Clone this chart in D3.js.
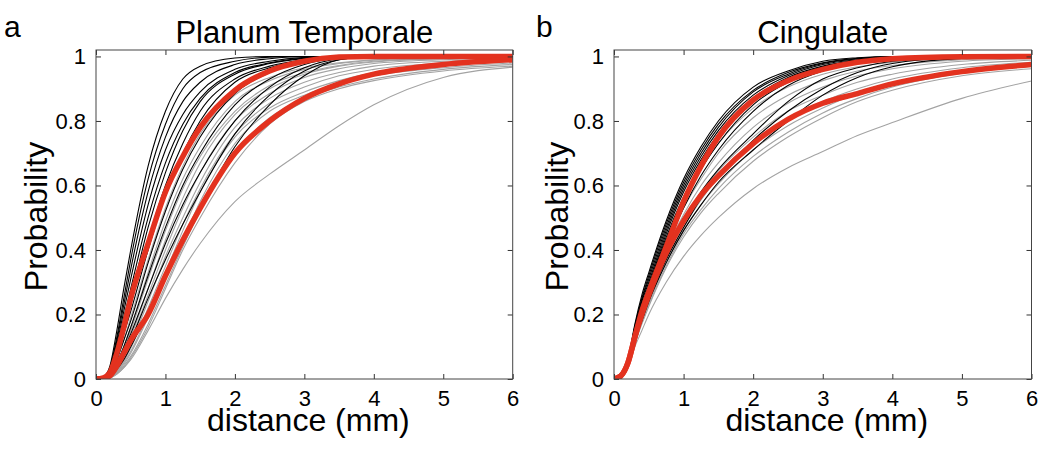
<!DOCTYPE html>
<html>
<head>
<meta charset="utf-8">
<script src="https://cdn.jsdelivr.net/npm/d3@7"></script>
<style>
  body { margin: 0; background: #fff; }
  svg { display: block; font-family: "Liberation Sans", Arial, sans-serif; }
</style>
</head>
<body>
<div class="chart"></div>
<script>
// distance grid (mm) shared by all curves
var distances = [0, 0.1, 0.2, 0.3, 0.4, 0.5, 0.75, 1, 1.25, 1.5, 2, 2.5, 3, 3.5, 4, 5, 6];
var xTicks = [0, 1, 2, 3, 4, 5, 6];
var yTicks = [0, 0.2, 0.4, 0.6, 0.8, 1];

// Planum Temporale
var ptBlack = [
  [0,0.005,0.04,0.15,0.28,0.40,0.66,0.83,0.93,0.97,0.995,1,1,1,1,1,1],
  [0,0.004,0.035,0.13,0.25,0.37,0.62,0.79,0.90,0.95,0.985,0.998,1,1,1,1,1],
  [0,0.003,0.03,0.12,0.23,0.34,0.58,0.75,0.86,0.92,0.975,0.993,1,1,1,1,1],
  [0,0.003,0.03,0.11,0.21,0.31,0.54,0.71,0.82,0.89,0.96,0.985,0.997,1,1,1,1],
  [0,0.002,0.025,0.10,0.19,0.28,0.50,0.67,0.79,0.87,0.95,0.98,0.995,1,1,1,1],
  [0,0.002,0.02,0.08,0.16,0.25,0.47,0.64,0.77,0.86,0.945,0.978,0.994,1,1,1,1],
  [0,0.002,0.02,0.08,0.15,0.23,0.43,0.60,0.73,0.83,0.93,0.97,0.99,1,1,1,1],
  [0,0.002,0.018,0.07,0.14,0.21,0.40,0.57,0.70,0.80,0.92,0.965,0.99,1,1,1,1],
  [0,0.002,0.015,0.06,0.12,0.18,0.36,0.52,0.65,0.75,0.885,0.95,0.985,0.998,1,1,1],
  [0,0.001,0.013,0.05,0.10,0.16,0.32,0.47,0.60,0.70,0.85,0.93,0.975,0.995,1,1,1],
  [0,0.001,0.011,0.045,0.09,0.14,0.28,0.42,0.54,0.64,0.80,0.905,0.965,0.993,1,1,1],
  [0,0.001,0.01,0.04,0.075,0.12,0.25,0.37,0.48,0.58,0.76,0.88,0.955,0.99,1,1,1],
  [0,0.001,0.008,0.03,0.06,0.10,0.21,0.32,0.43,0.53,0.72,0.85,0.94,0.99,1,1,1]
];
var ptGray = [
  [0,0.002,0.015,0.06,0.12,0.19,0.37,0.53,0.66,0.76,0.88,0.935,0.965,0.98,0.99,0.997,1],
  [0,0.001,0.012,0.05,0.10,0.16,0.33,0.49,0.62,0.72,0.86,0.925,0.96,0.978,0.988,0.996,0.999],
  [0,0.001,0.01,0.045,0.09,0.15,0.31,0.46,0.59,0.69,0.83,0.91,0.95,0.972,0.985,0.994,0.998],
  [0,0.001,0.01,0.04,0.08,0.13,0.28,0.43,0.56,0.67,0.82,0.90,0.945,0.97,0.983,0.993,0.997],
  [0,0.001,0.008,0.035,0.07,0.12,0.26,0.40,0.53,0.64,0.80,0.885,0.935,0.962,0.978,0.99,0.996],
  [0,0.001,0.008,0.03,0.065,0.11,0.24,0.38,0.50,0.61,0.78,0.87,0.92,0.95,0.97,0.985,0.993],
  [0,0,0.006,0.025,0.055,0.095,0.22,0.35,0.48,0.59,0.76,0.855,0.905,0.94,0.96,0.98,0.99],
  [0,0,0.005,0.022,0.05,0.085,0.20,0.33,0.46,0.58,0.75,0.84,0.89,0.925,0.95,0.972,0.985],
  [0,0,0.004,0.02,0.045,0.08,0.19,0.31,0.43,0.55,0.73,0.83,0.88,0.915,0.94,0.965,0.98],
  [0,0,0.004,0.018,0.04,0.07,0.17,0.29,0.41,0.52,0.70,0.81,0.87,0.905,0.93,0.96,0.975],
  [0,0,0.003,0.015,0.035,0.065,0.16,0.28,0.40,0.50,0.67,0.79,0.86,0.90,0.925,0.955,0.97],
  [0,0,0.003,0.015,0.035,0.06,0.15,0.25,0.34,0.42,0.55,0.635,0.71,0.785,0.85,0.935,0.967]
];
var ptMeanBlack = [0,0.003,0.02,0.08,0.16,0.25,0.42,0.58,0.69,0.78,0.895,0.955,0.985,0.998,1,1,1];
var ptMeanGray  = [0,0.002,0.01,0.04,0.08,0.12,0.20,0.32,0.43,0.53,0.70,0.80,0.87,0.915,0.945,0.975,0.99];

// Cingulate
var cgBlack = [
  [0,0.01,0.06,0.17,0.26,0.33,0.49,0.62,0.72,0.80,0.905,0.955,0.985,0.996,1,1,1],
  [0,0.01,0.058,0.165,0.25,0.32,0.48,0.61,0.71,0.79,0.895,0.95,0.98,0.994,0.999,1,1],
  [0,0.01,0.055,0.16,0.245,0.31,0.47,0.60,0.70,0.78,0.89,0.945,0.978,0.993,0.999,1,1],
  [0,0.01,0.055,0.155,0.24,0.30,0.46,0.59,0.69,0.77,0.88,0.94,0.975,0.99,0.998,1,1],
  [0,0.01,0.052,0.15,0.23,0.29,0.45,0.58,0.68,0.76,0.87,0.935,0.97,0.988,0.997,1,1],
  [0,0.01,0.05,0.145,0.225,0.285,0.44,0.565,0.665,0.745,0.86,0.93,0.968,0.987,0.996,1,1],
  [0,0.009,0.05,0.14,0.22,0.28,0.43,0.55,0.65,0.73,0.85,0.92,0.962,0.985,0.995,1,1],
  [0,0.009,0.048,0.135,0.21,0.27,0.41,0.53,0.63,0.71,0.83,0.91,0.955,0.98,0.993,0.999,1],
  [0,0.009,0.047,0.125,0.19,0.25,0.37,0.47,0.56,0.63,0.74,0.83,0.90,0.95,0.978,0.997,1],
  [0,0.008,0.046,0.125,0.19,0.25,0.38,0.49,0.58,0.65,0.76,0.86,0.93,0.965,0.985,0.998,1],
  [0,0.008,0.045,0.12,0.18,0.24,0.36,0.46,0.54,0.61,0.71,0.80,0.88,0.935,0.968,0.994,1]
];
var cgGray = [
  [0,0.01,0.05,0.14,0.22,0.28,0.43,0.55,0.65,0.73,0.84,0.905,0.945,0.968,0.982,0.994,0.998],
  [0,0.01,0.05,0.135,0.21,0.27,0.41,0.53,0.62,0.70,0.81,0.88,0.925,0.955,0.972,0.99,0.996],
  [0,0.009,0.048,0.13,0.20,0.26,0.40,0.51,0.60,0.67,0.78,0.855,0.905,0.94,0.962,0.985,0.993],
  [0,0.009,0.046,0.125,0.19,0.25,0.385,0.49,0.575,0.645,0.75,0.83,0.88,0.92,0.945,0.975,0.988],
  [0,0.009,0.045,0.12,0.185,0.24,0.37,0.47,0.555,0.625,0.73,0.805,0.86,0.90,0.93,0.965,0.982],
  [0,0.008,0.044,0.115,0.18,0.235,0.36,0.46,0.54,0.605,0.71,0.785,0.84,0.885,0.915,0.955,0.975],
  [0,0.008,0.043,0.11,0.175,0.23,0.35,0.45,0.525,0.59,0.69,0.765,0.825,0.87,0.905,0.948,0.97],
  [0,0.008,0.042,0.11,0.17,0.225,0.345,0.44,0.515,0.575,0.675,0.75,0.81,0.86,0.895,0.94,0.962],
  [0,0.008,0.04,0.10,0.15,0.20,0.30,0.38,0.445,0.50,0.59,0.655,0.705,0.755,0.795,0.87,0.924]
];
var cgMeanBlack = [0,0.01,0.05,0.13,0.21,0.27,0.41,0.55,0.66,0.75,0.865,0.925,0.96,0.982,0.993,0.999,1];
var cgMeanGray  = [0,0.01,0.05,0.13,0.20,0.26,0.39,0.49,0.57,0.63,0.73,0.805,0.855,0.885,0.915,0.953,0.975];

var panels = [
  { letter: "a", title: "Planum Temporale", black: ptBlack, gray: ptGray, means: [ptMeanBlack, ptMeanGray],
    left: 96, right: 512.7, letterX: 4, ylabX: 47 },
  { letter: "b", title: "Cingulate", black: cgBlack, gray: cgGray, means: [cgMeanBlack, cgMeanGray],
    left: 614, right: 1031.5, letterX: 536, ylabX: 568 }
];

var plotTop = 50, plotBottom = 379;

var svg = d3.select(".chart").append("svg")
    .attr("width", 1050)
    .attr("height", 451);

panels.forEach(function (p, i) {
    var x = d3.scaleLinear().domain([0, 6]).range([p.left, p.right]);
    var y = d3.scaleLinear().domain([0, 1.02]).range([plotBottom, plotTop]);

    var line = d3.line()
        .x(function (d, j) { return x(distances[j]); })
        .y(function (d) { return y(d); })
        .curve(d3.curveMonotoneX);

    svg.append("clipPath").attr("id", "clip" + i)
        .append("rect")
        .attr("x", p.left).attr("y", plotTop)
        .attr("width", p.right - p.left).attr("height", plotBottom - plotTop);

    var g = svg.append("g").attr("clip-path", "url(#clip" + i + ")");

    g.selectAll(".gray").data(p.gray).enter().append("path")
        .attr("d", line)
        .attr("fill", "none")
        .attr("stroke", "#a3a3a3")
        .attr("stroke-width", 1.1);

    g.selectAll(".black").data(p.black).enter().append("path")
        .attr("d", line)
        .attr("fill", "none")
        .attr("stroke", "#000")
        .attr("stroke-width", 1.1);

    g.selectAll(".mean").data(p.means).enter().append("path")
        .attr("d", line)
        .attr("fill", "none")
        .attr("stroke", "#e3321f")
        .attr("stroke-width", 5.5)
        .attr("stroke-linejoin", "round");

    // axes (ticks pointing inward on all four sides)
    var xAxis = d3.axisBottom(x).tickValues(xTicks).tickFormat(d3.format("d"))
        .tickSizeInner(-5).tickSizeOuter(0).tickPadding(11);
    var yAxis = d3.axisLeft(y).tickValues(yTicks).tickFormat(d3.format("~g"))
        .tickSizeInner(-5).tickSizeOuter(0).tickPadding(10);

    var styleAxis = function (sel) {
        sel.attr("font-family", null).attr("font-size", null);
        sel.select(".domain").remove();
        sel.selectAll("line").attr("stroke", "#333");
        sel.selectAll("text").attr("fill", "#000").style("font-size", "22px");
    };

    svg.append("g").attr("transform", "translate(0," + plotBottom + ")").call(xAxis).call(styleAxis);
    svg.append("g").attr("transform", "translate(" + p.left + ",0)").call(yAxis).call(styleAxis);
    svg.append("g").attr("transform", "translate(0," + plotTop + ")")
        .call(d3.axisTop(x).tickValues(xTicks).tickFormat("").tickSizeInner(-5).tickSizeOuter(0))
        .call(styleAxis);
    svg.append("g").attr("transform", "translate(" + p.right + ",0)")
        .call(d3.axisRight(y).tickValues(yTicks).tickFormat("").tickSizeInner(-5).tickSizeOuter(0))
        .call(styleAxis);

    svg.append("rect")
        .attr("x", p.left).attr("y", plotTop)
        .attr("width", p.right - p.left).attr("height", plotBottom - plotTop)
        .attr("fill", "none")
        .attr("stroke", "#444")
        .attr("stroke-width", 1);

    svg.append("text")
        .attr("x", (p.left + p.right) / 2).attr("y", 43)
        .attr("text-anchor", "middle")
        .style("font-size", "31px")
        .text(p.title);

    svg.append("text")
        .attr("x", p.letterX).attr("y", 37)
        .style("font-size", "30px")
        .text(p.letter);

    svg.append("text")
        .attr("x", (p.left + p.right) / 2 + 4).attr("y", 431)
        .attr("text-anchor", "middle")
        .style("font-size", "32px")
        .text("distance (mm)");

    svg.append("text")
        .attr("transform", "translate(" + p.ylabX + "," + ((plotTop + plotBottom) / 2 + 2) + ") rotate(-90)")
        .attr("text-anchor", "middle")
        .style("font-size", "32px")
        .text("Probability");
});
</script>
</body>
</html>
